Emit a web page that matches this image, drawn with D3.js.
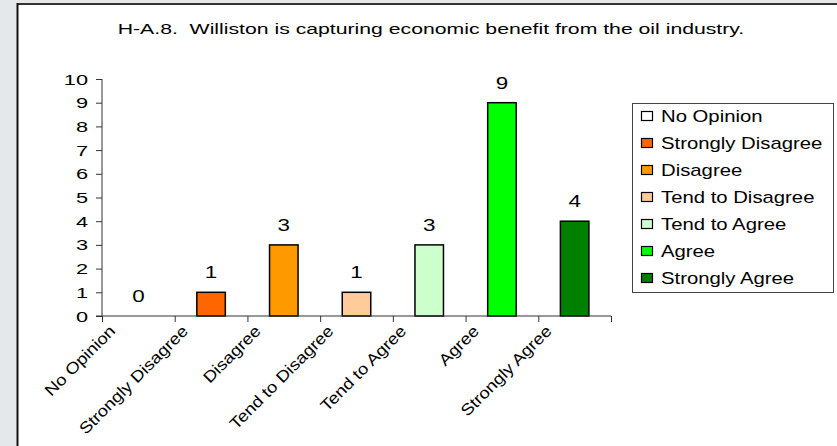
<!DOCTYPE html>
<html><head><meta charset="utf-8">
<script src="https://cdn.jsdelivr.net/npm/d3@7"></script>
<style>html,body{margin:0;padding:0;background:#e4e8eb;}svg{display:block;}text{font-family:"Liberation Sans",Arial,sans-serif;fill:#000;white-space:pre;}</style>
</head><body><svg id="c" width="837" height="446"></svg>
<script>
const titleText = "H-A.8.  Williston is capturing economic benefit from the oil industry.";
const categories = ["No Opinion","Strongly Disagree","Disagree","Tend to Disagree","Tend to Agree","Agree","Strongly Agree"];
const values = [0,1,3,1,3,9,4];
const colors = ["#FFFFFF","#FF6600","#FF9900","#FFCC99","#CCFFCC","#00FF00","#008000"];
const yTicks = [0,1,2,3,4,5,6,7,8,9,10];

const svg = d3.select("#c");
svg.append("rect").attr("x",0).attr("y",0).attr("width",837).attr("height",446).attr("fill","#e4e8eb");
svg.append("rect").attr("x",17).attr("y",3).attr("width",820).attr("height",443).attr("fill","#fff");
svg.append("line").attr("x1",17).attr("x2",837).attr("y1",4).attr("y2",4).attr("stroke","#333").attr("stroke-width",2);
svg.append("line").attr("x1",17.5).attr("x2",17.5).attr("y1",3).attr("y2",446).attr("stroke","#111").attr("stroke-width",2);

function stext(g, x, y, str, size, sx, anchor, rot){
  return g.append("text")
    .attr("transform", `translate(${x},${y})` + (rot?` rotate(${rot})`:"") + ` scale(${sx},1)`)
    .attr("font-size", size).attr("text-anchor", anchor||"start").text(str);
}

// title
const tt = svg.append("text").attr("x",431).attr("y",34).attr("font-size",15).attr("text-anchor","middle").text(titleText);
const w0 = tt.node().getComputedTextLength();
tt.attr("transform",`translate(431,0) scale(${627/w0},1) translate(-431,0)`);

const x = d3.scaleBand().domain(categories).range([102,611]).paddingInner(0).paddingOuter(0);
const y = d3.scaleLinear().domain([0,10]).range([316,79]);
const bw = 30;

// bars
svg.append("g").selectAll("rect").data(categories).enter().append("rect")
  .attr("x", d=>x(d)+x.bandwidth()/2-bw/2+0.75)
  .attr("y", (d,i)=>y(values[i]))
  .attr("width", bw-1.5)
  .attr("height", (d,i)=>y(0)-y(values[i]))
  .attr("fill",(d,i)=>colors[i])
  .attr("stroke","#000").attr("stroke-width",1.5)
  .attr("display",(d,i)=>values[i]===0?"none":null);

// axes
const yAxis = d3.axisLeft(y).tickValues(yTicks).tickSize(6).tickFormat(()=> "");
const ya = svg.append("g").attr("transform","translate(102,0)").call(yAxis);
ya.select(".domain").attr("stroke","#333").attr("d","M0,79V316");
ya.selectAll(".tick line").attr("stroke","#333");
yTicks.forEach(v=>{ stext(svg, 88, y(v)+5.5, String(v), 15, 1.45, "end"); });

const xAxis = d3.axisBottom(d3.scaleLinear().domain([0,categories.length]).range([102,611]))
  .tickValues(d3.range(categories.length+1)).tickSize(6).tickFormat(()=> "");
const xa = svg.append("g").attr("transform","translate(0,316)").call(xAxis);
xa.select(".domain").attr("stroke","#333").attr("d","M96,0H611");
xa.selectAll(".tick line").attr("stroke","#333");

// value labels
categories.forEach((c,i)=>{
  stext(svg, x(c)+x.bandwidth()/2, y(values[i])-14, String(values[i]), 16, 1.4, "middle");
});
// category labels
categories.forEach((c,i)=>{
  stext(svg, x(c)+x.bandwidth()/2-22, 332, c, 16, 1.15, "end", -45);
});

// legend
const lg = svg.append("g");
lg.append("rect").attr("x",632.5).attr("y",103.5).attr("width",201).attr("height",189).attr("fill","#fff").attr("stroke","#444").attr("stroke-width",1);
const ly = d3.scalePoint().domain(categories).range([116,278]);
categories.forEach((c,i)=>{
  lg.append("rect").attr("x",641.5).attr("y",ly(c)-4.5).attr("width",11).attr("height",9).attr("fill",colors[i]).attr("stroke","#000").attr("stroke-width",1.2);
  stext(lg, 661, ly(c)+6, c, 16, 1.27, "start");
});
</script></body></html>
